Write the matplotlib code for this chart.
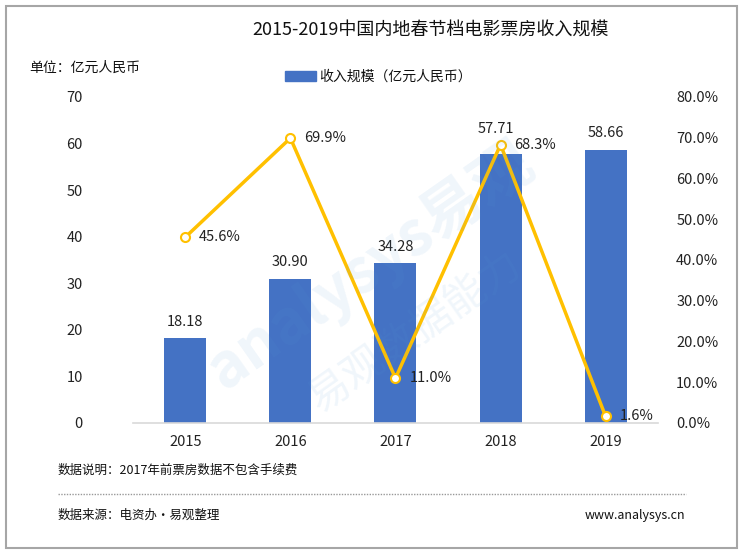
import matplotlib.pyplot as plt
from matplotlib.patches import Rectangle
from matplotlib.lines import Line2D

plt.rcParams['font.family'] = ['Noto Sans CJK SC', 'DejaVu Sans']

years = ['2015', '2016', '2017', '2018', '2019']
revenue = [18.18, 30.90, 34.28, 57.71, 58.66]
growth = [45.6, 69.9, 11.0, 68.3, 1.6]

bar_color = '#4472C4'
line_color = '#FFC000'

fig = plt.figure(figsize=(7.42, 5.54), dpi=100)
ax = fig.add_axes([0.179, 0.2365, 0.708, 0.5885])
ax2 = ax.twinx()

x = range(len(years))
ax.bar(x, revenue, width=0.4, color=bar_color, zorder=2)
for i, v in enumerate(revenue):
    # 2018 label sits higher so it clears the line marker
    dy = 13 if i == 3 else 7
    dx = -3 if i == 3 else 0
    ax.annotate(f'{v:.2f}', (i, v), xytext=(dx, dy), textcoords='offset points',
                ha='center', va='bottom', fontsize=10.5, color='#222222')

ax.set_ylim(0, 70)
ax.set_xlim(-0.5, len(years) - 0.5)
ax.set_yticks(range(0, 71, 10))
ax.set_xticks(list(x))
ax.set_xticklabels(years)
ax.tick_params(axis='both', length=0, labelsize=10.5, colors='#222222')
ax.tick_params(axis='x', pad=9)
ax.tick_params(axis='y', pad=36)
for s in ['top', 'left', 'right']:
    ax.spines[s].set_visible(False)
ax.spines['bottom'].set_color('#D9D9D9')
ax.spines['bottom'].set_linewidth(1.2)

ax2.plot(list(x), growth, color=line_color, lw=2.5, marker='o', ms=6.5,
         mfc='white', mec=line_color, mew=1.5, zorder=3)
for i, v in enumerate(growth):
    ax2.annotate(f'{v:.1f}%', (i, v), xytext=(10, 0), textcoords='offset points',
                 ha='left', va='center', fontsize=10.5, color='#222222')
ax2.set_ylim(0, 80)
ax2.set_yticks(range(0, 81, 10))
ax2.set_yticklabels([f'{t:.1f}%' for t in range(0, 81, 10)])
ax2.tick_params(axis='y', length=0, labelsize=10.5, colors='#222222', pad=13)
for s in ['top', 'left', 'right', 'bottom']:
    ax2.spines[s].set_visible(False)

# watermark
fig.text(0.50, 0.52, 'analysys易观', fontsize=44, color='#5B9BD5', alpha=0.09,
         rotation=35, ha='center', va='center', fontweight='bold')
fig.text(0.56, 0.40, '易观数据能力', fontsize=30, color='#5B9BD5', alpha=0.09,
         rotation=35, ha='center', va='center')

fig.text(0.58, 0.945, '2015-2019中国内地春节档电影票房收入规模', ha='center', va='center',
         fontsize=13, color='#111111')
fig.text(0.04, 0.878, '单位：亿元人民币', ha='left', va='center', fontsize=10, color='#111111')
fig.patches.append(Rectangle((0.384, 0.853), 0.042, 0.018, transform=fig.transFigure,
                             color=bar_color, figure=fig))
fig.text(0.430, 0.862, '收入规模（亿元人民币）', ha='left', va='center', fontsize=10, color='#111111')

fig.text(0.077, 0.152, '数据说明：2017年前票房数据不包含手续费', ha='left', va='center',
         fontsize=9, color='#111111')
fig.lines.append(Line2D([0.078, 0.925], [0.108, 0.108], transform=fig.transFigure,
                        color='#999999', lw=1, ls=(0, (1, 1)), figure=fig))
fig.text(0.078, 0.070, '数据来源：电资办·易观整理', ha='left', va='center', fontsize=9, color='#111111')
fig.text(0.923, 0.070, 'www.analysys.cn', ha='right', va='center', fontsize=9, color='#111111')

fig.patches.append(Rectangle((0.008, 0.010), 0.985, 0.980, transform=fig.transFigure,
                             fill=False, edgecolor='#A6A6A6', lw=1.5, figure=fig))

fig.savefig('out.png', dpi=100)
